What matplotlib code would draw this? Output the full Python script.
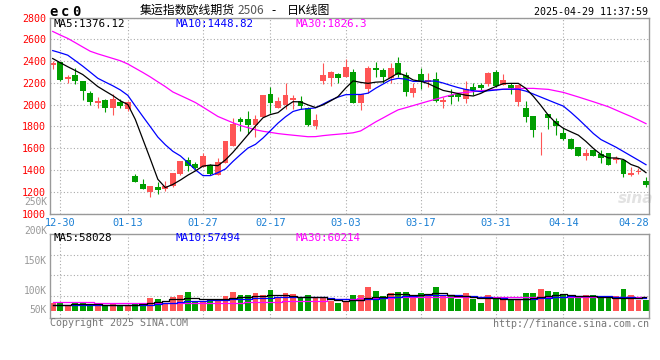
import matplotlib
matplotlib.use('Agg')
import matplotlib.pyplot as plt
import matplotlib.transforms as mtransforms

# ---- data (Dec 27 .. Apr 29, 80 trading days) ----
tick_idx = [1, 10, 20, 29, 39, 49, 59, 68, 78]
tick_lbl = ['12-30', '01-13', '01-27', '02-17', '03-03', '03-17', '03-31', '04-14', '04-28']

open_ = [2366, 2390, 2238, 2275, 2214, 2110, 2012, 2043, 1967, 2021,
         1960, 1347, 1273, 1197, 1246, 1225, 1249, 1362, 1493, 1457,
         1431, 1449, 1352, 1462, 1623, 1870, 1870, 1815, 1888, 2098,
         1970, 1998, 2040, 2034, 1970, 1809, 2220, 2242, 2281, 2257,
         2299, 2019, 2147, 2336, 2318, 2248, 2379, 2269, 2110, 2281,
         2208, 2235, 2025, 2089, 2098, 2055, 2165, 2180, 2193, 2299,
         2177, 2180, 2028, 1967, 1894, 1699, 1915, 1855, 1742, 1687,
         1608, 1526, 1580, 1547, 1553, 1492, 1495, 1355, 1379, 1303]
high = [2406, 2393, 2275, 2333, 2220, 2128, 2067, 2049, 2098, 2049,
        2030, 1365, 1316, 1258, 1289, 1295, 1375, 1487, 1524, 1475,
        1555, 1458, 1513, 1663, 1876, 1888, 1943, 1903, 2089, 2165,
        2068, 2199, 2089, 2080, 1983, 1916, 2385, 2312, 2287, 2418,
        2330, 2098, 2354, 2391, 2336, 2379, 2440, 2299, 2202, 2336,
        2290, 2299, 2074, 2141, 2110, 2220, 2202, 2202, 2299, 2318,
        2281, 2202, 2180, 2034, 1894, 1745, 1915, 1876, 1784, 1696,
        1608, 1593, 1580, 1583, 1553, 1529, 1495, 1425, 1422, 1334]
low = [2330, 2215, 2200, 2186, 2043, 1997, 1973, 1936, 1905, 1973,
       1945, 1286, 1225, 1157, 1179, 1203, 1245, 1356, 1392, 1408,
       1424, 1358, 1352, 1462, 1623, 1763, 1733, 1699, 1888, 1928,
       1970, 1961, 1961, 1961, 1800, 1778, 2187, 2175, 2202, 2257,
       2019, 1952, 2104, 2257, 2202, 2202, 2251, 2080, 2074, 2144,
       2162, 2022, 1973, 2004, 2034, 2013, 2089, 2129, 2175, 2165,
       2177, 2098, 1992, 1845, 1702, 1535, 1775, 1724, 1678, 1596,
       1532, 1495, 1526, 1465, 1449, 1468, 1334, 1346, 1364, 1245]
close = [2385, 2225, 2257, 2220, 2128, 2028, 2031, 1967, 2052, 1991,
         2024, 1289, 1228, 1249, 1221, 1258, 1371, 1484, 1438, 1423,
         1525, 1367, 1477, 1663, 1824, 1845, 1815, 1870, 2089, 2013,
         2034, 2089, 2059, 1986, 1815, 1861, 2275, 2296, 2248, 2342,
         2019, 2098, 2336, 2321, 2257, 2336, 2269, 2120, 2156, 2211,
         2226, 2037, 2046, 2074, 2068, 2141, 2138, 2156, 2290, 2175,
         2226, 2156, 2180, 1885, 1766, 1708, 1879, 1806, 1687, 1596,
         1532, 1559, 1532, 1510, 1449, 1510, 1361, 1370, 1391, 1263]

ma5 = [2424, 2386, 2349, 2314, 2277, 2223, 2167, 2125, 2084, 2036,
       2002, 1865, 1683, 1501, 1315, 1239, 1268, 1308, 1353, 1392,
       1436, 1446, 1440, 1493, 1563, 1643, 1724, 1804, 1880, 1910,
       1927, 1982, 2028, 2026, 1998, 1974, 1998, 2035, 2075, 2152,
       2219, 2205, 2196, 2207, 2211, 2249, 2292, 2267, 2227, 2215,
       2194, 2161, 2131, 2117, 2102, 2087, 2080, 2104, 2138, 2167,
       2194, 2196, 2196, 2150, 2077, 1993, 1903, 1833, 1783, 1751,
       1720, 1663, 1598, 1543, 1511, 1511, 1497, 1451, 1427, 1376]
ma10 = [2497, 2477, 2455, 2405, 2354, 2299, 2243, 2208, 2174, 2136,
        2086, 1988, 1892, 1798, 1703, 1632, 1572, 1530, 1468, 1402,
        1349, 1349, 1376, 1410, 1479, 1542, 1602, 1636, 1694, 1762,
        1831, 1889, 1938, 1957, 1964, 1971, 2006, 2041, 2070, 2092,
        2094, 2094, 2106, 2151, 2190, 2228, 2242, 2235, 2214, 2214,
        2217, 2217, 2199, 2177, 2157, 2140, 2129, 2120, 2128, 2135,
        2142, 2142, 2142, 2125, 2098, 2070, 2042, 2014, 1987, 1930,
        1868, 1802, 1735, 1680, 1645, 1610, 1570, 1530, 1490, 1449]
ma30 = [2673, 2640, 2609, 2570, 2530, 2491, 2467, 2446, 2425, 2404,
        2374, 2335, 2296, 2255, 2210, 2166, 2117, 2085, 2053, 2020,
        1978, 1935, 1892, 1863, 1834, 1809, 1789, 1770, 1756, 1746,
        1735, 1727, 1720, 1713, 1706, 1707, 1716, 1723, 1729, 1735,
        1742, 1759, 1800, 1842, 1879, 1917, 1953, 1972, 1992, 2012,
        2032, 2051, 2070, 2088, 2106, 2113, 2120, 2129, 2133, 2139,
        2142, 2145, 2148, 2150, 2150, 2145, 2141, 2127, 2113, 2092,
        2071, 2049, 2027, 2004, 1981, 1951, 1921, 1892, 1860, 1826]

# volume in thousands
vol = [31.6, 31.6, 22.4, 32.9, 32.9, 22.4, 22.4, 22.4, 29.0, 22.4,
       22.4, 29.0, 29.0, 48.6, 46.0, 31.6, 52.5, 61.7, 73.5, 38.1,
       35.5, 46.0, 44.7, 57.8, 73.5, 60.4, 60.4, 68.3, 60.4, 81.4,
       52.5, 68.3, 65.6, 49.9, 60.4, 52.5, 52.5, 39.4, 31.6, 38.1,
       61.7, 61.7, 94.4, 78.7, 59.1, 70.9, 74.8, 74.8, 59.1, 70.9,
       61.7, 94.4, 59.1, 57.8, 46.0, 70.9, 46.0, 31.6, 61.7, 48.6,
       42.0, 42.0, 42.0, 70.9, 70.9, 84.0, 78.7, 74.8, 61.7, 61.7,
       59.1, 61.7, 61.7, 55.2, 52.5, 59.1, 84.0, 61.7, 42.0, 42.0]
vma5 = [24, 24, 24, 25, 26, 26, 25, 24, 24, 23,
        23, 24, 25, 29, 35.5, 39, 44.7, 47, 48.6, 48.6,
        47, 44.7, 44.7, 47, 51, 55, 55, 56.5, 58, 60.4,
        60.4, 60.4, 58, 55, 55, 54, 52.5, 45, 42, 40,
        42, 42, 48.6, 52.5, 52.5, 65.6, 65.6, 65.6, 63, 63,
        65.6, 68.3, 68.3, 61.7, 59, 59, 55, 51, 51, 48.6,
        46, 44.7, 44.7, 46, 48.6, 55, 59, 63, 65.6, 61.7,
        59, 59, 58, 55, 54, 51, 51, 51, 51, 54]
vma10 = [22, 22, 22, 22, 22, 22, 22, 22, 22, 22,
         22, 22, 22, 23.7, 26, 29, 31.6, 34, 37, 38,
         39.4, 40.7, 42, 43, 44.7, 46, 47, 48.6, 50, 51,
         52.5, 54, 55, 55, 55, 54, 52.5, 48.6, 46, 44.7,
         43, 42, 44.7, 47, 50, 52.5, 55, 57.8, 59, 61.7,
         61.7, 63, 63, 61.7, 60.4, 57.8, 56.5, 55.2, 54, 51,
         48.6, 47, 46, 46, 47, 48.6, 51, 54, 55, 56.5,
         57.8, 59, 59, 57.8, 56.5, 55, 54, 52.5, 51, 51]
vma30 = [34, 34, 34, 34, 34, 34, 31.6, 31.6, 31.6, 31.6,
         31.6, 31.6, 29, 29, 29, 29, 29, 29, 29, 29,
         29, 31.6, 31.6, 31.6, 31.6, 31.6, 34, 34, 34, 34,
         34, 38, 38, 38, 38, 38, 38, 44.7, 44.7, 44.7,
         44.7, 48.6, 48.6, 48.6, 48.6, 48.6, 52.5, 52.5, 52.5, 52.5,
         52.5, 52.5, 52.5, 52.5, 52.5, 52.5, 53, 53, 53, 53,
         53, 53, 53, 53, 53, 53, 54, 54, 54, 54,
         54, 54, 54, 54, 54, 54, 54, 54, 54, 54]

price_ticks = [1000, 1200, 1400, 1600, 1800, 2000, 2200, 2400, 2600, 2800]
vol_grid = [57.8, 140.3, 218.9]
vol_lbl = [('250K', 202), ('200K', 231), ('150K', 261), ('100K', 291), ('50K', 310)]

RED = '#ff5555'
GREEN = '#009e00'
GRID = '#aaaaaa'
BORDER = '#999999'
MONO = 'DejaVu Sans Mono'
CJK = ['Noto Sans CJK SC', 'DejaVu Sans']

W, H = 660, 360
fig = plt.figure(figsize=(6.6, 3.6), dpi=100)


def fx(px):
    return px / W


def fy(py):
    return 1 - py / H


L, R = 50, 649.3
ax = fig.add_axes([fx(L), fy(213.6), fx(R - L), (213.6 - 17.6) / H])
axv = fig.add_axes([fx(L), fy(318), fx(R - L), (318 - 234) / H], sharex=ax)

x = list(range(len(close)))
cols = [RED if c >= o else GREEN for o, c in zip(open_, close)]
bottoms = [min(o, c) for o, c in zip(open_, close)]
heights = [max(abs(c - o), 7) for o, c in zip(open_, close)]

# candles
ax.vlines(x, low, high, colors=cols, lw=0.8, zorder=2)
ax.bar(x, heights, bottom=bottoms, width=0.78, color=cols, lw=0, zorder=2)
ax.plot(x, ma30, color='#ff00ff', lw=0.9, zorder=3)
ax.plot(x, ma10, color='#0000ff', lw=0.9, zorder=3)
ax.plot(x, ma5, color='black', lw=0.9, zorder=3)

ax.set_xlim(-0.36, 79.44)
ax.set_ylim(1000, 2800)
ax.set_yticks(price_ticks)
ax.set_yticklabels([str(t) for t in price_ticks], color='#ff0000',
                   family=MONO, fontsize=7.2)
ax.set_xticks(tick_idx)
ax.tick_params(length=0, pad=3, labelbottom=False)
ax.grid(True, ls=(0, (1, 2)), color=GRID, lw=0.8)
ax.xaxis.get_gridlines()[-1].set_visible(False)

# date labels under the price panel
trans = mtransforms.blended_transform_factory(ax.transData, ax.transAxes)
for i, t in zip(tick_idx[:-1], tick_lbl[:-1]):
    ax.text(i, -0.02, t, transform=trans, ha='center', va='top',
            color='#1a7fd4', family=MONO, fontsize=7.4)
ax.text(0.999, -0.02, tick_lbl[-1], transform=ax.transAxes, ha='right',
        va='top', color='#1a7fd4', family=MONO, fontsize=7.4)

# volume
axv.bar(x, vol, width=0.78, color=cols, lw=0, zorder=2)
axv.plot(x, vma30, color='#ff00ff', lw=0.9, drawstyle='steps-mid', zorder=3)
axv.plot(x, vma10, color='#0000ff', lw=0.9, drawstyle='steps-mid', zorder=3)
axv.plot(x, vma5, color='black', lw=0.9, drawstyle='steps-mid', zorder=3)
axv.set_ylim(-28.7, 301.4)
axv.set_yticks(vol_grid)
axv.tick_params(length=0, labelleft=False, labelbottom=False)
axv.grid(True, ls=(0, (1, 2)), color=GRID, lw=0.8)
axv.xaxis.get_gridlines()[-1].set_visible(False)

for a in (ax, axv):
    a.set_axisbelow(True)
    for s in a.spines.values():
        s.set_color(BORDER)
        s.set_linewidth(1.0)

for t, py in vol_lbl:
    fig.text(fx(47), fy(py), t, ha='right', va='center', color=BORDER,
             family=MONO, fontsize=6.9)

# legends
fig.text(fx(54), fy(24), 'MA5:1376.12', color='black', family=MONO,
         fontsize=7.8, va='center')
fig.text(fx(175), fy(24), 'MA10:1448.82', color='#0000ff', family=MONO,
         fontsize=7.8, va='center')
fig.text(fx(296), fy(24), 'MA30:1826.3', color='#ff00ff', family=MONO,
         fontsize=7.8, va='center')
fig.text(fx(54), fy(238), 'MA5:58028', color='black', family=MONO,
         fontsize=7.8, va='center')
fig.text(fx(175), fy(238), 'MA10:57494', color='#0000ff', family=MONO,
         fontsize=7.8, va='center')
fig.text(fx(295), fy(238), 'MA30:60214', color='#ff00ff', family=MONO,
         fontsize=7.8, va='center')

# header
for ch, cx in zip('ec0', (53.5, 65, 76.5)):
    fig.text(fx(cx), fy(16), ch, ha='center', va='baseline', family=MONO,
             fontsize=10, fontweight='bold', color='black')
fig.text(fx(140), fy(10.5), '集运指数欧线期货', ha='left', va='center',
         family=CJK, fontsize=8.6, color='black')
fig.text(fx(238), fy(10.5), '2506', ha='left', va='center',
         family=CJK, fontsize=8.6, color='#555555')
fig.text(fx(271), fy(10.5), '-', ha='left', va='center',
         family=CJK, fontsize=8.6, color='black')
fig.text(fx(287), fy(10.5), '日K线图', ha='left', va='center',
         family=CJK, fontsize=8.6, color='black')
fig.text(fx(648), fy(12), '2025-04-29 11:37:59', ha='right', va='center',
         family=MONO, fontsize=7.2, color='black')

# footer
fig.text(fx(50), fy(323.5), 'Copyright 2025 SINA.COM', ha='left',
         va='center', family=MONO, fontsize=7.2, color='#777777')
fig.text(fx(649), fy(324), 'http://finance.sina.com.cn', ha='right',
         va='center', family=MONO, fontsize=7.2, color='#777777')

# watermark
ax.text(fx(636), fy(198), 'sina', transform=fig.transFigure, ha='center',
        va='center', fontsize=11, style='italic', fontweight='bold',
        color='#e2e2e2', zorder=1)

fig.savefig('out.png', dpi=100)
